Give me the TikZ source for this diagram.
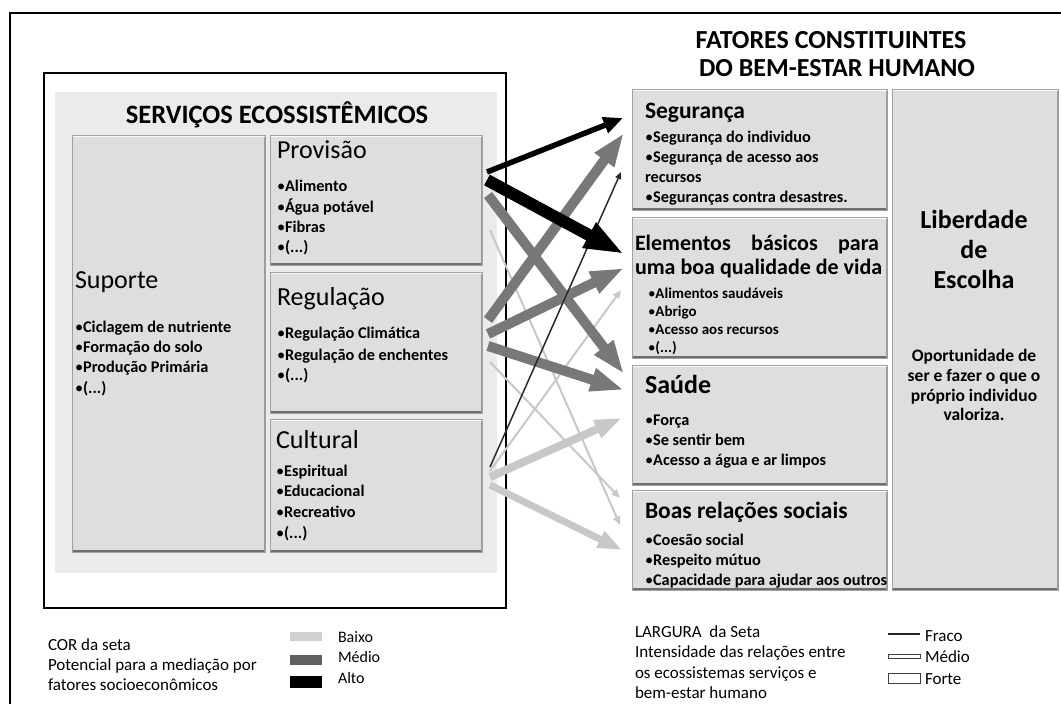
\documentclass[tikz,border=0pt]{standalone}
\usepackage{fontspec}
\setmainfont{Carlito}
\usetikzlibrary{arrows.meta,calc}
\definecolor{panel}{HTML}{EBEBEB}
\definecolor{boxfill}{HTML}{DEDEE0}
\definecolor{boxedge}{HTML}{A0A0A0}
\definecolor{boxshadow}{HTML}{6E6E6E}
\definecolor{midgray}{HTML}{787878}
\definecolor{lightgr}{HTML}{C8C8C8}
\definecolor{darkln}{HTML}{2A2A2A}
\newcommand\myfs[1]{\fontsize{#1}{#1}\selectfont}
\newcommand\bu{{\mdseries •}}
\begin{document}
\begin{tikzpicture}[x=1pt,y=-1pt,
  box/.style={draw=boxedge, fill=boxfill, line width=0.8pt, inner sep=0pt, outer sep=0pt, anchor=north west,
    path picture={\draw[boxshadow, line width=5pt] (path picture bounding box.south west) -- (path picture bounding box.south east);
                  \draw[boxshadow!70, line width=2.4pt] (path picture bounding box.north east) -- (path picture bounding box.south east);
                  \draw[white!85!boxfill, line width=3pt] (path picture bounding box.north west) -- (path picture bounding box.north east);}},
  txt/.style={anchor=base west, inner sep=0pt, outer sep=0pt},
  ctxt/.style={anchor=base, inner sep=0pt, outer sep=0pt},
  bul/.style={txt, font=\myfs{16.3}\bfseries},
  sbul/.style={txt, font=\myfs{15}\bfseries},
  lgd/.style={txt, font=\myfs{17}},
  tip/.style={-{Triangle[width=#1]}}
]
\useasboundingbox (0,0) rectangle (1061,704);
\fill[white] (0,0) rectangle (1061,704);
% outer frame
\coordinate (fa) at (1061,13);
\coordinate (fb) at (10,13);
\coordinate (fc) at (10,704);
\draw[black, line width=2.5pt] (fa) -- (fb) -- (fc);
% services frame and panel
\node[draw=black, line width=2.5pt, minimum width=462pt, minimum height=535pt, anchor=north west, inner sep=0pt, outer sep=0pt] (frame) at (44,73) {};
\node[fill=panel, minimum width=442pt, minimum height=481pt, anchor=north west, inner sep=0pt, outer sep=0pt] (panel) at (55,92) {};
\node[ctxt, font=\myfs{26.5}\bfseries] (stitle) at (277,123) {SERVIÇOS ECOSSISTÊMICOS};
% left boxes
\node[box, minimum width=193pt, minimum height=417pt] (sup) at (72,135) {};
\node[box, minimum width=212pt, minimum height=130pt] (prov) at (270,135) {};
\node[box, minimum width=212pt, minimum height=141pt] (reg) at (270,272) {};
\node[box, minimum width=212pt, minimum height=133pt] (cult) at (270,419) {};
% left texts
\node[txt, font=\myfs{26}] (tprov) at (277,158) {Provisão};
\node[bul] (p1) at (277,191) {\bu Alimento};
\node[bul] (p2) at (277,212) {\bu Água potável};
\node[bul] (p3) at (277,232) {\bu Fibras};
\node[bul] (p4) at (277,252) {\bu(...)};
\node[txt, font=\myfs{26}] (tsup) at (75,288) {Suporte};
\node[bul] (s1) at (75,332) {\bu Ciclagem de nutriente};
\node[bul] (s2) at (75,352) {\bu Formação do solo};
\node[bul] (s3) at (75,372) {\bu Produção Primária};
\node[bul] (s4) at (75,393) {\bu(...)};
\node[txt, font=\myfs{26}] (treg) at (277,305) {Regulação};
\node[bul] (r1) at (277,338) {\bu Regulação Climática};
\node[bul] (r2) at (277,360) {\bu Regulação de enchentes};
\node[bul] (r3) at (277,380) {\bu(...)};
\node[txt, font=\myfs{26}] (tcult) at (276,448) {Cultural};
\node[bul] (c1) at (276,476) {\bu Espiritual};
\node[bul] (c2) at (276,496) {\bu Educacional};
\node[bul] (c3) at (276,517) {\bu Recreativo};
\node[bul] (c4) at (276,538) {\bu(...)};
% right title
\node[ctxt, font=\myfs{26}\bfseries] (rt1) at (831,48) {FATORES CONSTITUINTES};
\node[ctxt, font=\myfs{26}\bfseries] (rt2) at (837,76) {DO BEM-ESTAR HUMANO};
% right boxes
\node[box, minimum width=255pt, minimum height=121pt] (seg) at (632,89) {};
\node[box, minimum width=255pt, minimum height=141pt] (elem) at (632,217) {};
\node[box, minimum width=255pt, minimum height=120pt] (saude) at (632,365) {};
\node[box, minimum width=255pt, minimum height=100pt] (boas) at (632,490) {};
\node[box, minimum width=166pt, minimum height=501pt] (lib) at (892,89) {};
% right texts
\node[txt, font=\myfs{23.5}\bfseries] (tseg) at (645,118) {Segurança};
\node[bul] (g1) at (645,142) {\bu Segurança do individuo};
\node[bul] (g2) at (645,162) {\bu Segurança de acesso aos};
\node[bul] (g3) at (645,182) {recursos};
\node[bul] (g4) at (645,202) {\bu Seguranças contra desastres.};
\node[txt, font=\myfs{22}\bfseries] (telem1) at (635,250) {\makebox[244pt][s]{Elementos básicos para}};
\node[txt, font=\myfs{22}\bfseries] (telem2) at (635,274) {uma boa qualidade de vida};
\node[sbul] (e1) at (648,298) {\bu Alimentos saudáveis};
\node[sbul] (e2) at (648,316) {\bu Abrigo};
\node[sbul] (e3) at (648,334) {\bu Acesso aos recursos};
\node[sbul] (e4) at (648,352) {\bu(...)};
\node[txt, font=\myfs{26}\bfseries] (tsau) at (645,393) {Saúde};
\node[bul] (h1) at (645,425) {\bu Força};
\node[bul] (h2) at (645,445) {\bu Se sentir bem};
\node[bul] (h3) at (645,465) {\bu Acesso a água e ar limpos};
\node[txt, font=\myfs{23.5}\bfseries] (tboas) at (645,518) {Boas relações sociais};
\node[bul] (b1) at (645,545) {\bu Coesão social};
\node[bul] (b2) at (645,565) {\bu Respeito mútuo};
\node[bul] (b3) at (645,585) {\bu Capacidade para ajudar aos outros};
\node[ctxt, font=\myfs{26}\bfseries] (l1) at (974,228) {Liberdade};
\node[ctxt, font=\myfs{26}\bfseries] (l2) at (974,258) {de};
\node[ctxt, font=\myfs{26}\bfseries] (l3) at (974,288) {Escolha};
\node[ctxt, font=\myfs{17.5}\bfseries] (o1) at (974,361) {Oportunidade de};
\node[ctxt, font=\myfs{17.5}\bfseries] (o2) at (974,381) {ser e fazer o que o};
\node[ctxt, font=\myfs{17.5}\bfseries] (o3) at (974,401) {próprio individuo};
\node[ctxt, font=\myfs{17.5}\bfseries] (o4) at (974,420) {valoriza.};
% arrows: light
\draw[lightgr, line width=2pt, tip=7pt] ($(prov.north east)+(8,95)$) -- ($(boas.north west)+(-12,35)$);
\draw[lightgr, line width=2pt, tip=7pt] ($(reg.north east)+(8,90)$) -- ($(boas.north west)+(-12,8)$);
\draw[lightgr, line width=2pt, tip=7pt] ($(cult.north east)+(8,52)$) -- ($(elem.north west)+(-11,73)$);
\draw[lightgr, line width=8pt, tip=18pt] ($(cult.north east)+(8,58)$) -- ($(saude.north west)+(-10,53)$);
\draw[lightgr, line width=7pt, tip=17pt] ($(cult.north east)+(8,66)$) -- ($(boas.north west)+(-10,60)$);
% arrows: medium
\draw[midgray, line width=10pt, tip=22pt] ($(prov.north east)+(6,60)$) -- ($(saude.north west)+(-8,9)$);
\draw[midgray, line width=10pt, tip=22pt] ($(reg.north east)+(6,48)$) -- ($(seg.north west)+(-8,44)$);
\draw[midgray, line width=10pt, tip=22pt] ($(reg.north east)+(6,62)$) -- ($(elem.north west)+(-8,51)$);
\draw[midgray, line width=10pt, tip=22pt] ($(reg.north east)+(6,74)$) -- ($(saude.north west)+(-8,25)$);
% arrows: dark thin
\draw[darkln, line width=1.5pt, tip=6pt] ($(cult.north east)+(8,48)$) -- ($(seg.north west)+(-11,83)$);
% arrows: black
\draw[black, line width=5.5pt, tip=16pt] ($(prov.north east)+(5,37)$) -- ($(seg.north west)+(-9,29)$);
\draw[black, line width=12pt, tip=26pt] ($(prov.north east)+(5,45)$) -- ($(elem.north west)+(-8,37)$);
% legend left
\node[lgd] (lg1) at (48,650) {COR da seta};
\node[lgd] (lg2) at (48,670) {Potencial para a mediação por};
\node[lgd] (lg3) at (48,690) {fatores socioeconômicos};
\node[fill=lightgr!85!white, minimum width=32pt, minimum height=9pt, inner sep=0pt, anchor=north west] (sw1) at (290,632) {};
\node[fill=midgray!80!black, minimum width=32pt, minimum height=10pt, inner sep=0pt, anchor=north west] (sw2) at (290,655) {};
\node[fill=black, minimum width=32pt, minimum height=12pt, inner sep=0pt, anchor=north west] (sw3) at (290,676) {};
\node[lgd, font=\myfs{16}] (k1) at (338,642) {Baixo};
\node[lgd, font=\myfs{16}] (k2) at (338,662) {Médio};
\node[lgd, font=\myfs{16}] (k3) at (338,683) {Alto};
% legend right
\node[lgd] (lw1) at (635,637) {LARGURA\ \ da Seta};
\node[lgd] (lw2) at (635,657) {Intensidade das relações entre};
\node[lgd] (lw3) at (635,678) {os ecossistemas serviços e};
\node[lgd] (lw4) at (635,698) {bem-estar humano};
\coordinate (fr1) at (888,634);
\coordinate (fr2) at (920,634);
\draw[black!85, line width=2pt] (fr1) -- (fr2);
\node[draw=black!75, line width=0.9pt, minimum width=32pt, minimum height=4pt, inner sep=0pt, anchor=north west] (wm) at (888,654) {};
\node[draw=black!75, line width=0.9pt, minimum width=32pt, minimum height=10pt, inner sep=0pt, anchor=north west] (wf) at (888,673) {};
\node[lgd] (f1) at (925,641) {Fraco};
\node[lgd] (f2) at (925,662) {Médio};
\node[lgd] (f3) at (925,684) {Forte};
\end{tikzpicture}
\end{document}
